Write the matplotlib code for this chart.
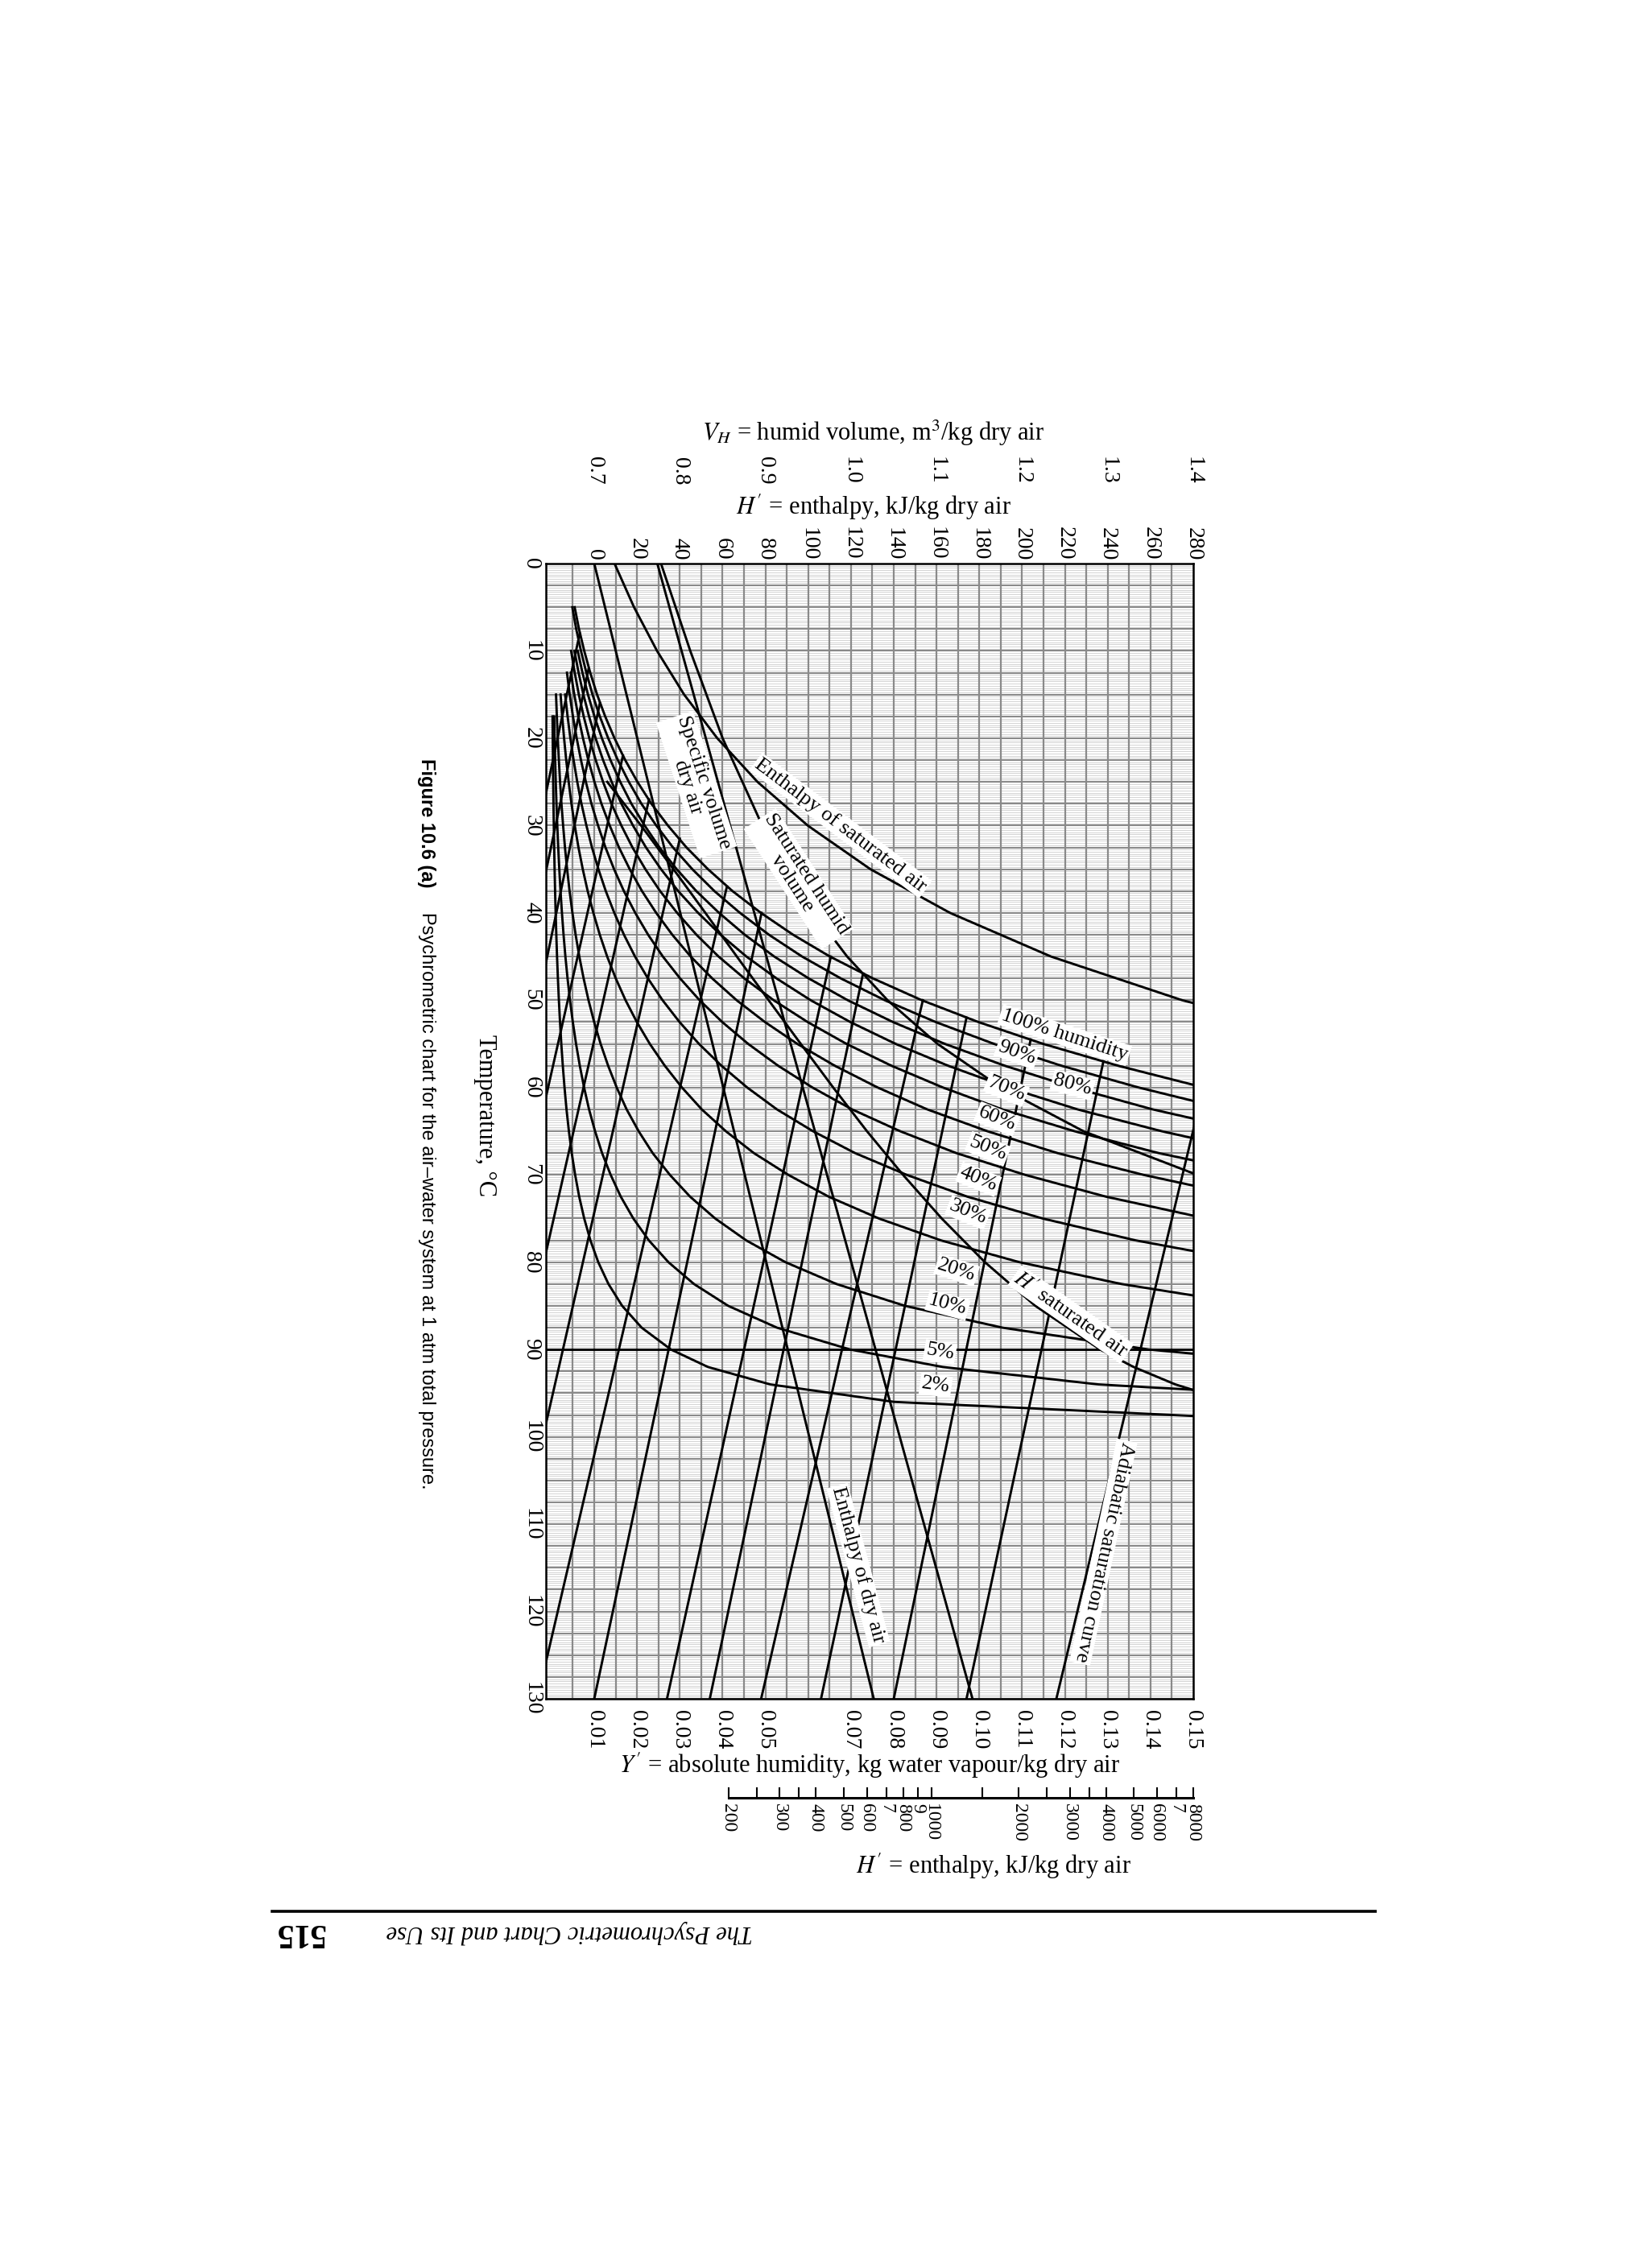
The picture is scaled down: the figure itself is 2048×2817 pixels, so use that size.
import numpy as np
import matplotlib
matplotlib.use("Agg")
import matplotlib.pyplot as plt
import matplotlib.transforms as mtransforms

plt.rcParams['font.family'] = ['Liberation Serif', 'DejaVu Serif']
plt.rcParams['mathtext.fontset'] = 'stix'

# ---- data ----
# saturation humidity (kg water / kg dry air) against temperature
sat_t = [0, 2.5, 5, 7.5, 10, 12.5, 15, 17.5, 20, 22.5, 25, 27.5, 30, 32.5, 35, 37.5, 40,
         42.5, 45, 47.5, 50, 52.5, 55, 57.5, 60, 62.5, 65, 67.5, 70, 72.5, 75, 77.5, 80,
         82.5, 85, 87.5, 90, 92, 94, 96, 98]
sat_y = [0.00379, 0.00455, 0.00542, 0.00643, 0.00766, 0.00906, 0.01066, 0.01255, 0.01473,
         0.01723, 0.02009, 0.02335, 0.02722, 0.03154, 0.03658, 0.04230, 0.04895, 0.05646,
         0.06508, 0.07512, 0.08654, 0.09977, 0.1149, 0.1324, 0.1525, 0.1756, 0.2037, 0.2364,
         0.2767, 0.324, 0.3827, 0.455, 0.5467, 0.666, 0.826, 1.054, 1.396, 1.828, 2.557,
         4.003, 8.34]

pct_levels = [100, 90, 80, 70, 60, 50, 40, 30, 20, 10, 5, 2]
pct_start_t = [5, 5, 10, 10, 10, 12.5, 12.5, 15, 15, 15, 17.5, 17.5]

# adiabatic saturation lines: start on saturation curve, end at T = 130
adiab_ts = [8, 12, 16, 22, 27, 31.5, 37, 40, 45, 47, 50, 52, 54.5, 57, 60]
adiab_ys = [0.0066, 0.0087, 0.0113, 0.0167, 0.0228, 0.0300, 0.0410, 0.0491, 0.0653,
            0.0728, 0.0868, 0.0970, 0.1120, 0.1290, 0.1524]
adiab_y130 = [-0.046, -0.042, -0.037, -0.033, -0.025, -0.016, -0.0033, 0.010, 0.027,
              0.037, 0.049, 0.063, 0.080, 0.097, 0.118]

# enthalpy of saturated air, kJ/kg dry air
hsat_t = [0, 5, 10, 15, 20, 25, 30, 35, 40, 45, 50, 55, 60, 65, 70, 75, 80, 85, 90, 92, 94, 96]
hsat_h = [9.48, 18.6, 29.35, 42.0, 57.5, 76.3, 99.8, 129.1, 166.3, 213.5, 274.8, 354.6,
          458.9, 599.7, 798.8, 1086, 1530, 2283, 3818, 4980, 6941, 10830]
# enthalpy of dry air
hdry_t = [0, 130]
hdry_h = [0, 130.65]
# humid volumes, m3/kg dry air
vdry_t = [0, 130]
vdry_v = [0.7737, 1.1420]
vsat_t = [0, 10, 20, 30, 40, 45, 50, 55, 60, 65, 70]
vsat_v = [0.778, 0.8122, 0.850, 0.8963, 0.9568, 0.9955, 1.0427, 1.1011, 1.1751, 1.2716, 1.4044]

t_ticks = list(range(0, 131, 10))
y_ticks = [0.01, 0.02, 0.03, 0.04, 0.05, 0.07, 0.08, 0.09, 0.10, 0.11, 0.12, 0.13, 0.14, 0.15]
vh_ticks = [0.7, 0.8, 0.9, 1.0, 1.1, 1.2, 1.3, 1.4]
h_ticks = list(range(0, 281, 20))
hlog_ticks = [200, 250, 300, 350, 400, 500, 600, 700, 800, 900, 1000, 1500, 2000, 2500,
              3000, 3500, 4000, 5000, 6000, 7000, 8000]
hlog_labels = {200: '200', 300: '300', 400: '400', 500: '500', 600: '600', 700: '7',
               800: '800', 900: '9', 1000: '1000', 2000: '2000', 3000: '3000',
               4000: '4000', 5000: '5000', 6000: '6000', 7000: '7', 8000: '8000'}


# scale mappings onto the humidity axis
def vh_to_y(v):
    return 0.01 + (np.asarray(v) - 0.7) * 0.2


def h_to_y(h):
    return 0.01 + np.asarray(h) * 0.0005


def hlog_to_y(h):
    return 0.0414 + (0.15 - 0.0414) * np.log10(np.asarray(h) / 200.0) / np.log10(40.0)


W, H = 2048, 2817
fig = plt.figure(figsize=(W / 100, H / 100), dpi=100)
fig.patch.set_facecolor('white')


def fy(py):
    return 1 - py / H


def fx(px):
    return px / W


left, right, top, bottom = 678, 1482, 700, 2110
ax = fig.add_axes([fx(left), fy(bottom), fx(right) - fx(left), fy(top) - fy(bottom)])
ax.set_xlim(-0.0013, 0.15)
ax.set_ylim(130, 0)
ax.set_xticks([])
ax.set_yticks([])
for s in ax.spines.values():
    s.set_linewidth(1.8)

# grid
for t in np.arange(0, 130.01, 0.25):
    if abs(t / 2.5 - round(t / 2.5)) < 1e-6:
        ax.axhline(t, color='#8a8a8a', lw=1.5, zorder=1)
    else:
        ax.axhline(t, color='#c4c4c4', lw=0.5, zorder=1)
for yv in np.arange(0.005, 0.15, 0.005):
    ax.axvline(yv, color='#8a8a8a', lw=1.6, zorder=1)

lw = 2.1
sat_t_a = np.array(sat_t)
sat_y_a = np.array(sat_y)
for p, t0 in zip(pct_levels, pct_start_t):
    m = sat_t_a >= t0
    ax.plot(p / 100 * sat_y_a[m], sat_t_a[m], color='black', lw=lw, zorder=3)

for ts, ys, y130 in zip(adiab_ts, adiab_ys, adiab_y130):
    ax.plot([ys, y130], [ts, 130], color='black', lw=lw, zorder=3)

ax.plot(h_to_y(hsat_h), hsat_t, color='black', lw=lw, zorder=3)
ax.plot(h_to_y(hdry_h), hdry_t, color='black', lw=lw, zorder=3)
ax.plot(vh_to_y(vdry_v), vdry_t, color='black', lw=lw, zorder=3)
ax.plot(vh_to_y(vsat_v), vsat_t, color='black', lw=lw, zorder=3)
m = np.array(hsat_t) >= 25
ax.plot(hlog_to_y(np.array(hsat_h)[m]), np.array(hsat_t)[m], color='black', lw=lw, zorder=3)
ax.axhline(90, color='black', lw=lw, zorder=3)

# labels on the curves
box = dict(facecolor='white', edgecolor='none', pad=1.5)
lab_fs = 19
curve_labels = [
    ('Specific volume\ndry air', 0.0339, 25.3, -72),
    ('Saturated humid\nvolume', 0.0578, 36.1, -57),
    ('Enthalpy of saturated air', 0.0676, 30.0, -37),
    ('100% humidity', 0.1199, 54.0, -18),
    ('90%', 0.1088, 56.0, -20),
    ('80%', 0.1218, 59.7, -15),
    ('70%', 0.1063, 60.2, -22),
    ('60%', 0.1041, 63.6, -22),
    ('50%', 0.1020, 67.0, -22),
    ('40%', 0.0998, 70.5, -22),
    ('30%', 0.0973, 74.3, -22),
    ('20%', 0.0947, 80.9, -18),
    ('10%', 0.0926, 84.9, -15),
    ('5%', 0.0908, 90.3, -10),
    ('2%', 0.0898, 94.1, -8),
    ("$H'$ saturated air", 0.1214, 86.0, -35),
    ('Enthalpy of dry air', 0.0717, 114.7, -75),
    ('Adiabatic saturation curve', 0.1290, 113.2, -102),
]
for txt, xv, tv, rot in curve_labels:
    ax.text(xv, tv, txt, rotation=rot, ha='center', va='center', fontsize=lab_fs,
            bbox=box, zorder=5, linespacing=0.95, rotation_mode='anchor')

# axis scales
tr = mtransforms.blended_transform_factory(ax.transData, fig.transFigure)
tick_fs = 20
for t in t_ticks:
    ty = fy(top + (bottom - top) * t / 130)
    fig.text(fx(660), ty, str(t), rotation=-90, ha='center', va='center', fontsize=tick_fs)
for yv in y_ticks:
    fig.text(yv, fy(2124), '%.2f' % yv, transform=tr, rotation=-90, ha='center', va='top',
             fontsize=tick_fs)
for v in vh_ticks:
    fig.text(vh_to_y(v), fy(602), '%.1f' % v, transform=tr, rotation=-90, ha='center',
             va='bottom', fontsize=tick_fs)
for h in h_ticks:
    fig.text(h_to_y(h), fy(696), str(h), transform=tr, rotation=-90, ha='center',
             va='bottom', fontsize=tick_fs)

# log enthalpy bar
bar_y = fy(2233)
ax.plot([hlog_to_y(200), hlog_to_y(8000)], [bar_y, bar_y], transform=tr, color='black',
        lw=2.2, clip_on=False)
for h in hlog_ticks:
    xv = float(hlog_to_y(h))
    ax.plot([xv, xv], [bar_y, bar_y + 12 / H], transform=tr, color='black', lw=1.5,
            clip_on=False)
    if h in hlog_labels:
        lab = hlog_labels[h]
        fig.text(xv, fy(2240), lab, transform=tr, rotation=-90, ha='center', va='top',
                 fontsize=17)

# axis titles
fig.text(fx(1085), fy(538), r'$V_H$ = humid volume, m$^3$/kg dry air', ha='center',
         va='center', fontsize=22)
fig.text(fx(1085), fy(630), r"$H'$ = enthalpy, kJ/kg dry air", ha='center', va='center',
         fontsize=22)
fig.text(fx(1080), fy(2193), r"$Y'$ = absolute humidity, kg water vapour/kg dry air",
         ha='center', va='center', fontsize=22)
fig.text(fx(1234), fy(2318), r"$H'$ = enthalpy, kJ/kg dry air", ha='center', va='center',
         fontsize=22)
fig.text(fx(603), fy(1386), 'Temperature, °C', rotation=-90, ha='center', va='center',
         fontsize=22)

# caption
fig.text(fx(530), fy(942), 'Figure 10.6 (a)', rotation=-90, ha='center', va='top',
         fontsize=17, fontweight='bold', family=['Liberation Sans', 'DejaVu Sans'])
fig.text(fx(530), fy(1133),
         'Psychrometric chart for the air\u2013water system at 1 atm total pressure.',
         rotation=-90, ha='center', va='top', fontsize=17,
         family=['Liberation Sans', 'DejaVu Sans'])

# page footer (upside down)
fig.add_artist(plt.Line2D([fx(338), fx(1708)], [fy(2374), fy(2374)], color='black', lw=2.6))
fig.text(fx(372), fy(2400), '515', rotation=180, ha='center', va='center', fontsize=30,
         fontweight='bold')
fig.text(fx(707), fy(2400), 'The Psychrometric Chart and Its Use', rotation=180,
         ha='center', va='center', fontsize=22, style='italic')

fig.savefig('out.png', dpi=100, facecolor='white')
